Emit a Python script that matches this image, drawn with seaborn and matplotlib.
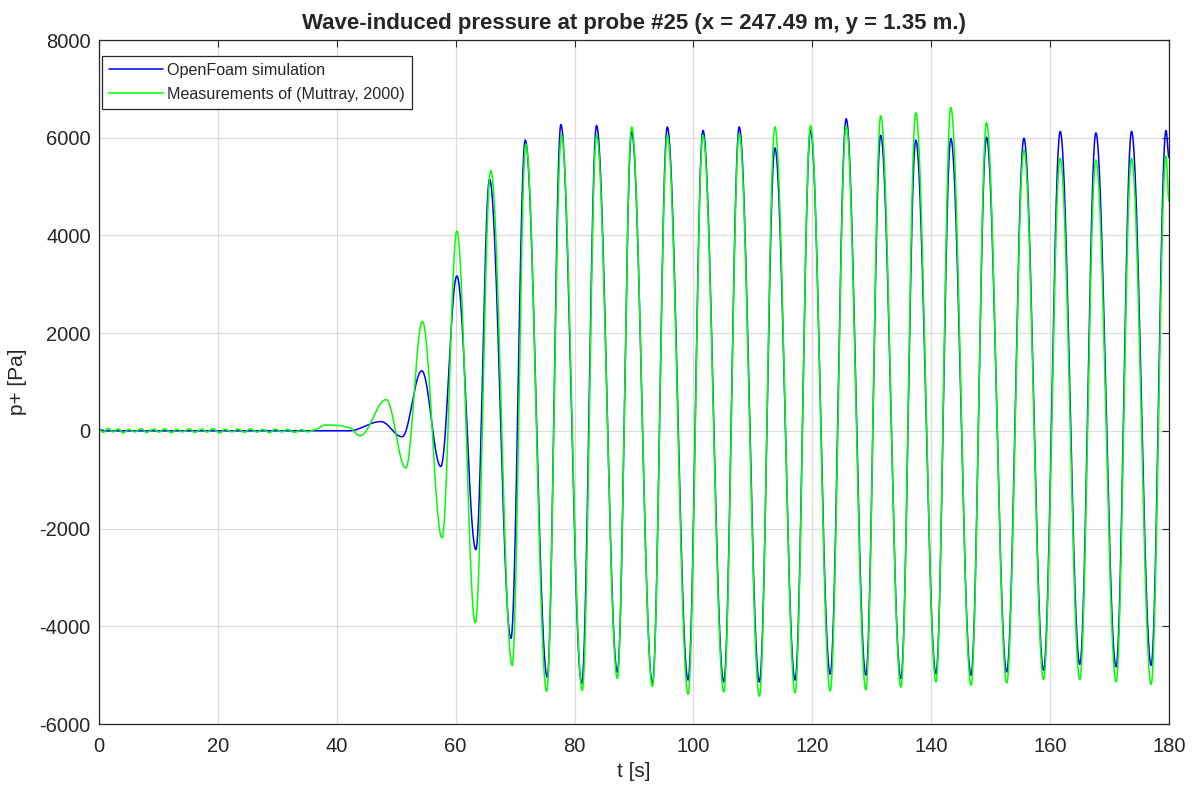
import numpy as np
import pandas as pd
import matplotlib
matplotlib.use("Agg")
import matplotlib.pyplot as plt
import seaborn as sns

# ---- data: extrema (time [s], pressure [Pa]) ----
sim_t = [0, 1.0, 42.0, 47.4, 51.0, 54.3, 57.5, 60.2, 63.4, 65.7, 69.3, 71.7, 75.4,
         77.7, 81.2, 83.7, 87.2, 89.6, 93.1, 95.6, 99.1, 101.6, 105.1, 107.7, 111.1,
         113.7, 117.1, 119.7, 123.0, 125.7, 129.0, 131.5, 134.9, 137.4, 140.8, 143.3,
         146.7, 149.3, 152.7, 155.6, 158.9, 161.7, 165.0, 167.7, 171.1, 173.7, 177.0,
         179.5, 180.0]
sim_p = [30, 0, 0, 190, -120, 1230, -730, 3170, -2430, 5150, -4250, 5950, -5040,
         6270, -5170, 6250, -4940, 6120, -5170, 6220, -5100, 6150, -5140, 6220, -5140,
         5790, -5100, 6150, -4980, 6390, -5000, 6050, -5070, 5950, -4970, 5985,
         -5000, 6010, -4935, 5990, -4900, 6130, -4780, 6100, -4830, 6130, -4800,
         6150, 5600]

meas_t = [0, 0.7, 1.5, 2.4, 3.2, 4.1, 5.0, 6.0, 7.1, 8.0, 9.2, 10.1, 11.0, 12.2, 13.1,
          14.0, 15.2, 16.1, 17.3, 18.2, 19.1, 20.3, 21.2, 22.4, 23.3, 24.5, 25.4, 26.6,
          27.5, 28.7, 29.6, 30.8, 31.7, 32.9, 34.0, 35.2, 36.2, 38.0, 40.5, 42.0, 43.9,
          48.3, 51.6, 54.4, 57.7, 60.2, 63.3, 65.9, 69.5, 71.8, 75.3,
          77.8, 81.3, 83.7, 87.2, 89.6, 93.1, 95.6, 99.1, 101.6, 105.1, 107.7, 111.1,
          113.7, 117.1, 119.7, 123.0, 125.7, 129.0, 131.5, 134.9, 137.4, 140.8, 143.3,
          146.7, 149.3, 152.7, 155.6, 158.9, 161.7, 165.0, 167.7, 171.1, 173.7, 177.0,
          179.5, 180.0]
meas_p = [40, -30, 50, -20, 40, -40, 30, -20, 45, -30, 35, -25, 40, -35, 30, -20, 40,
          -30, 35, -25, 45, -40, 30, -20, 35, -30, 40, -25, 30, -35, 35, -20, 30, -30,
          25, -20, 20, 120, 110, 70, -100,
          640, -760, 2240, -2190, 4090, -3930, 5330, -4800, 5870, -5330,
          6050, -5310, 6050, -5070, 6220, -5230, 6050, -5390, 6050, -5345, 6080, -5430,
          6220, -5365, 6245, -5325, 6245, -5300, 6450, -5245, 6510, -5140, 6620,
          -5210, 6310, -5160, 5750, -5090, 5580, -5090, 5545, -5140, 5580, -5190,
          5625, 4700]

series_names = ["OpenFoam simulation", "Measurements of (Muttray, 2000)"]
colors = ["#0000FF", "#00FF00"]


def trace(tk, pk, dt=0.02):
    """Smooth half-cosine segments between successive read extrema."""
    ts, ps = [], []
    for i in range(len(tk) - 1):
        n = max(2, int(np.ceil((tk[i + 1] - tk[i]) / dt)))
        s = np.linspace(0, 1, n, endpoint=False)
        w = (1 - np.cos(np.pi * s)) / 2
        ts.append(tk[i] + (tk[i + 1] - tk[i]) * s)
        ps.append(pk[i] + (pk[i + 1] - pk[i]) * w)
    ts.append([tk[-1]])
    ps.append([pk[-1]])
    return np.concatenate(ts), np.concatenate(ps)


frames = []
for name, tk, pk in [(series_names[0], sim_t, sim_p), (series_names[1], meas_t, meas_p)]:
    t, p = trace(tk, pk)
    frames.append(pd.DataFrame({"t": t, "p": p, "series": name}))
df = pd.concat(frames, ignore_index=True)

sns.set_style("white")
plt.rcParams['font.family'] = ['Liberation Sans', 'DejaVu Sans']
plt.rcParams['axes.unicode_minus'] = False

fig = plt.figure(figsize=(11.96, 7.91), dpi=100)
ax = fig.add_axes([0.0828, 0.0847, 0.8946, 0.8647])

sns.lineplot(data=df, x="t", y="p", hue="series", hue_order=series_names,
             palette=colors, estimator=None, sort=False, linewidth=1.1, ax=ax)

ax.set_xlim(0, 180)
ax.set_ylim(-6000, 8000)
ax.set_xticks(np.arange(0, 181, 20))
ax.set_yticks(np.arange(-6000, 8001, 2000))
ax.grid(True, color="#dcdcdc", linewidth=0.9)
ax.set_axisbelow(True)
for sp in ax.spines.values():
    sp.set_visible(True)
    sp.set_color("#262626")
    sp.set_linewidth(0.9)
ax.tick_params(direction="in", length=5, width=0.8, top=True, right=True,
               labelsize=14.5, colors="#262626", labelcolor="#262626")
ax.tick_params(axis="x", pad=9)
ax.tick_params(axis="y", pad=6)

ax.set_title("Wave-induced pressure at probe #25 (x = 247.49 m, y = 1.35 m.)",
             fontsize=16, fontweight="bold", pad=8)
ax.set_xlabel("t [s]", fontsize=15, color="#262626", labelpad=5)
ax.set_ylabel("p+ [Pa]", fontsize=15, color="#262626", labelpad=9)

leg = ax.legend(loc="upper left", bbox_to_anchor=(0.003, 0.977), fontsize=11.6,
                frameon=True, fancybox=False, edgecolor="#262626", framealpha=1,
                handlelength=3.3, handletextpad=0.25, borderpad=0.45, labelspacing=0.55,
                borderaxespad=0.0)
leg.get_frame().set_linewidth(0.9)
for line in leg.get_lines():
    line.set_linewidth(1.1)

fig.savefig("out.png", dpi=100)
